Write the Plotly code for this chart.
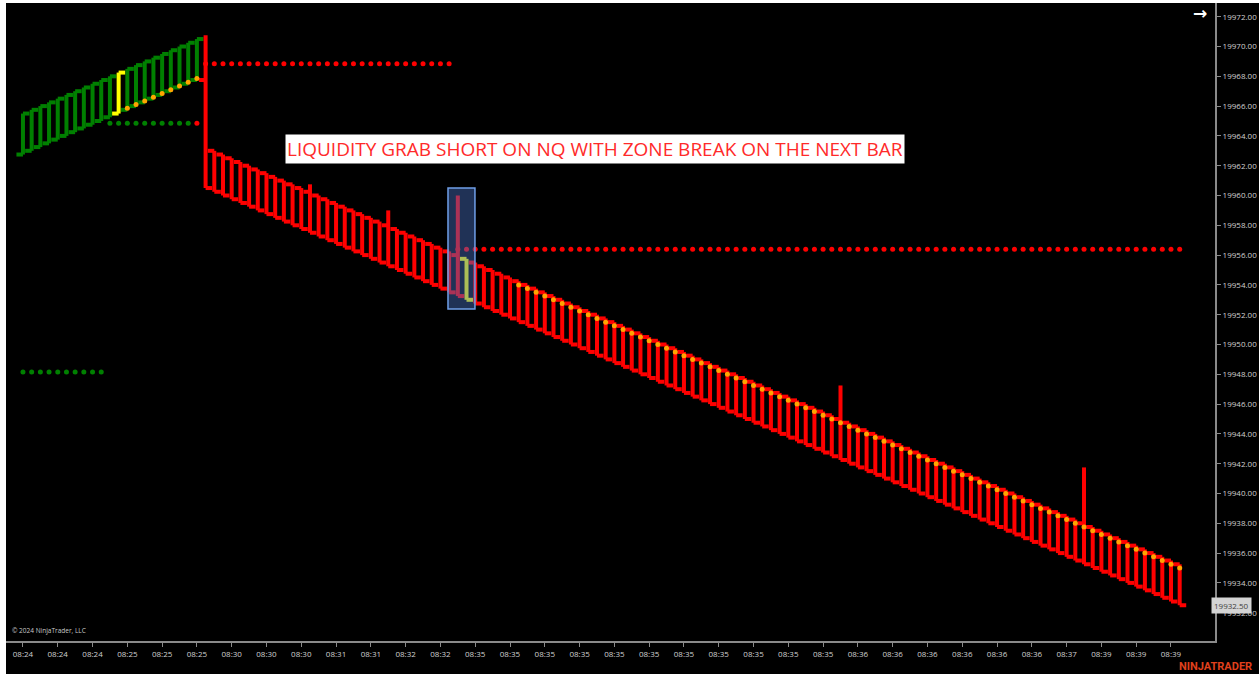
import plotly.graph_objects as go

# ---------------- data ----------------
time_labels = ["08:24", "08:24", "08:24", "08:25", "08:25", "08:25", "08:30", "08:30", "08:30",
               "08:31", "08:31", "08:32", "08:32",
               "08:35", "08:35", "08:35", "08:35", "08:35", "08:35", "08:35", "08:35", "08:35", "08:35", "08:35",
               "08:36", "08:36", "08:36", "08:36", "08:36", "08:36", "08:37", "08:39", "08:39", "08:39"]
label_bars = list(range(0, 134, 4))

opens = [19962.75, 19963, 19963.25, 19963.5, 19963.75, 19964, 19964.25, 19964.5, 19964.75, 19965,
         19965.25, 19965.5, 19965.75, 19966, 19966.25, 19966.5, 19966.75, 19967, 19967.25, 19967.5,
         19967.75, 19967.75,
         19963, 19962.75, 19962.5, 19962.25, 19962, 19961.75, 19961.5, 19961.25, 19961, 19960.75,
         19960.5, 19960.25, 19960, 19959.75, 19959.5, 19959.25, 19959, 19958.75, 19958.5, 19958.25,
         19958, 19957.75, 19957.5, 19957.25, 19957, 19956.75, 19956.5, 19956.25, 19956, 19955.75,
         19955.5, 19955.25, 19955, 19954.75, 19954.5, 19954.25, 19954, 19953.75, 19953.5, 19953.25,
         19953, 19952.75, 19952.5, 19952.25, 19952, 19951.75, 19951.5, 19951.25, 19951, 19950.75,
         19950.5, 19950.25, 19950, 19949.75, 19949.5, 19949.25, 19949, 19948.75, 19948.5, 19948.25,
         19948, 19947.75, 19947.5, 19947.25, 19947, 19946.75, 19946.5, 19946.25, 19946, 19945.75,
         19945.5, 19945.25, 19945, 19944.75, 19944.5, 19944.25, 19944, 19943.75, 19943.5, 19943.25,
         19943, 19942.75, 19942.5, 19942.25, 19942, 19941.75, 19941.5, 19941.25, 19941, 19940.75,
         19940.5, 19940.25, 19940, 19939.75, 19939.5, 19939.25, 19939, 19938.75, 19938.5, 19938.25,
         19938, 19937.75, 19937.5, 19937.25, 19937, 19936.75, 19936.5, 19936.25, 19936, 19935.75,
         19935.5, 19935.25]

closes = [19965.5, 19965.75, 19966, 19966.25, 19966.5, 19966.75, 19967, 19967.25, 19967.5, 19967.75,
          19968, 19968.25, 19968.5, 19968.75, 19969, 19969.25, 19969.5, 19969.75, 19970, 19970.25,
          19970.5, 19960.5,
          19960.25, 19960, 19959.75, 19959.5, 19959.25, 19959, 19958.75, 19958.5, 19958.25, 19958,
          19957.75, 19957.5, 19957.25, 19957, 19956.75, 19956.5, 19956.25, 19956, 19955.75, 19955.5,
          19955.25, 19955, 19954.75, 19954.5, 19954.25, 19954, 19953.75, 19953.5, 19953.25, 19953,
          19952.75, 19952.5, 19952.25, 19952, 19951.75, 19951.5, 19951.25, 19951, 19950.75, 19950.5,
          19950.25, 19950, 19949.75, 19949.5, 19949.25, 19949, 19948.75, 19948.5, 19948.25, 19948,
          19947.75, 19947.5, 19947.25, 19947, 19946.75, 19946.5, 19946.25, 19946, 19945.75, 19945.5,
          19945.25, 19945, 19944.75, 19944.5, 19944.25, 19944, 19943.75, 19943.5, 19943.25, 19943,
          19942.75, 19942.5, 19942.25, 19942, 19941.75, 19941.5, 19941.25, 19941, 19940.75, 19940.5,
          19940.25, 19940, 19939.75, 19939.5, 19939.25, 19939, 19938.75, 19938.5, 19938.25, 19938,
          19937.75, 19937.5, 19937.25, 19937, 19936.75, 19936.5, 19936.25, 19936, 19935.75, 19935.5,
          19935.25, 19935, 19934.75, 19934.5, 19934.25, 19934, 19933.75, 19933.5, 19933.25, 19933,
          19932.75, 19932.5]

# bars whose high pokes above the body (wicks)
wick_bars = [21, 33, 42, 50, 94, 122]
wick_highs = [19970.75, 19960.75, 19959.0, 19960.0, 19947.25, 19941.75]

# highlighted (signal) bars
signal_bars = [11, 51]

# trailing-stop dots
trail_up_bars = list(range(12, 21))
trail_up_vals = [19965.85, 19966.1, 19966.35, 19966.6, 19966.85, 19967.1, 19967.35, 19967.6, 19967.85]
trail_dn_bars = list(range(57, 134))
trail_dn_vals = [19954, 19953.75, 19953.5, 19953.25, 19953, 19952.75, 19952.5, 19952.25, 19952, 19951.75,
                 19951.5, 19951.25, 19951, 19950.75, 19950.5, 19950.25, 19950, 19949.75, 19949.5, 19949.25,
                 19949, 19948.75, 19948.5, 19948.25, 19948, 19947.75, 19947.5, 19947.25, 19947, 19946.75,
                 19946.5, 19946.25, 19946, 19945.75, 19945.5, 19945.25, 19945, 19944.75, 19944.5, 19944.25,
                 19944, 19943.75, 19943.5, 19943.25, 19943, 19942.75, 19942.5, 19942.25, 19942, 19941.75,
                 19941.5, 19941.25, 19941, 19940.75, 19940.5, 19940.25, 19940, 19939.75, 19939.5, 19939.25,
                 19939, 19938.75, 19938.5, 19938.25, 19938, 19937.75, 19937.5, 19937.25, 19937, 19936.75,
                 19936.5, 19936.25, 19936, 19935.75, 19935.5, 19935.25, 19935]

# zone levels drawn as dotted lines (first bar, last bar, price)
zone_first = [0, 10, 20, 21, 50]
zone_last = [9, 19, 20, 49, 133]
zone_level = [19948.15, 19964.85, 19964.85, 19968.85, 19956.4]
zone_kind = ["support", "support", "resistance", "resistance", "resistance"]

last_price = 19932.5

# ---------------- derived ----------------
n = len(opens)
highs = [max(o, c) for o, c in zip(opens, closes)]
lows = [min(o, c) for o, c in zip(opens, closes)]
for b, h in zip(wick_bars, wick_highs):
    highs[b] = h

GREEN = "#008000"
RED = "#ff0000"
YELLOW = "#ffff00"
ORANGE = "#ffa500"
TICK = 0.75  # open/close tick length, in bar units


def ohlc_path(idx):
    """OHLC bar glyphs: left tick = open, vertical = range, right tick = close."""
    xs, ys = [], []
    for i in idx:
        xs += [i - TICK, i, None, i, i, None, i, i + TICK, None]
        ys += [opens[i], opens[i], None, lows[i], highs[i], None, closes[i], closes[i], None]
    return xs, ys


up = [i for i in range(n) if closes[i] > opens[i] and i not in signal_bars]
down = [i for i in range(n) if closes[i] <= opens[i] and i not in signal_bars]

fig = go.Figure()
for group, color in ((up, GREEN), (down, RED), (signal_bars, YELLOW)):
    xs, ys = ohlc_path(group)
    fig.add_trace(go.Scatter(x=xs, y=ys, mode="lines", line=dict(color=color, width=4),
                             connectgaps=False, hoverinfo="skip"))

for a, b, lvl, kind in zip(zone_first, zone_last, zone_level, zone_kind):
    xs = list(range(a, b + 1))
    fig.add_trace(go.Scatter(x=xs, y=[lvl] * len(xs), mode="markers",
                             marker=dict(size=5, color=GREEN if kind == "support" else RED),
                             hoverinfo="skip"))

fig.add_trace(go.Scatter(x=trail_up_bars, y=trail_up_vals, mode="markers",
                         marker=dict(size=5, color=ORANGE), hoverinfo="skip"))
fig.add_trace(go.Scatter(x=trail_dn_bars, y=trail_dn_vals, mode="markers",
                         marker=dict(size=5, color=ORANGE), hoverinfo="skip"))

AX = "#8a8a8a"
fig.update_layout(
    width=1259, height=674,
    margin=dict(l=6, r=44, t=3, b=33),
    paper_bgcolor="black", plot_bgcolor="black",
    showlegend=False,
    font=dict(family="Open Sans, sans-serif"),
    xaxis=dict(range=[-1.95, 137.06], tickmode="array", tickvals=label_bars, ticktext=time_labels,
               showgrid=False, zeroline=False, showline=True, linecolor=AX, linewidth=2,
               ticks="outside", ticklen=4, tickcolor=AX, tickwidth=1,
               tickfont=dict(size=8, color="#d0d0d0")),
    yaxis=dict(side="right", range=[19930.10, 19972.92], tick0=19932, dtick=2, tickformat=".2f",
               showgrid=False, zeroline=False, showline=True, linecolor=AX, linewidth=2,
               ticks="outside", ticklen=4, tickcolor=AX, tickwidth=1,
               tickfont=dict(size=8, color="#d0d0d0")),
    shapes=[
        dict(type="rect", xref="x", yref="y", x0=48.87, x1=51.97, y0=19952.38, y1=19960.5,
             fillcolor="rgba(70,110,190,0.45)", line=dict(color="#6f9fe8", width=1.5), layer="above"),
        dict(type="rect", xref="paper", yref="paper", x0=-0.006, x1=0.0, y0=-0.06, y1=1.01,
             fillcolor="white", line=dict(width=0), layer="below"),
        dict(type="rect", xref="paper", yref="paper", x0=-0.006, x1=1.04, y0=1.0, y1=1.01,
             fillcolor="white", line=dict(width=0), layer="below"),
    ],
    annotations=[
        dict(text="LIQUIDITY GRAB SHORT ON NQ WITH ZONE BREAK ON THE NEXT BAR",
             x=65.77, y=19963.15, xref="x", yref="y", showarrow=False,
             font=dict(size=19, color="#ff2a2a", family="Open Sans, sans-serif"),
             bgcolor="white", borderpad=1),
        dict(text="© 2024 NinjaTrader, LLC", x=0.0033, y=0.0157, xref="paper", yref="paper",
             xanchor="left", yanchor="middle", showarrow=False,
             font=dict(size=6.5, color="#c8c8c8")),
        dict(text="<b>→</b>", x=0.9876, y=0.978, xref="paper", yref="paper", showarrow=False,
             xanchor="center", yanchor="middle", yshift=4,
             font=dict(size=17, color="white", family="DejaVu Sans, sans-serif")),
        dict(text=f"{last_price:.2f}", x=0.9967, y=last_price, xref="paper", yref="y",
             xanchor="left", yanchor="middle", showarrow=False,
             font=dict(size=8, color="#404040"), bgcolor="#d4d4d4", borderpad=2),
        dict(text="<b>NINJATRADER</b>", x=1.0323, y=-0.0392, xref="paper", yref="paper",
             xanchor="right", yanchor="middle", showarrow=False,
             font=dict(size=11, color="#e0401c", family="Roboto, sans-serif")),
    ],
)

fig.write_html("out.html", config={"displayModeBar": False},
               post_script="document.body.style.margin='0px';")
